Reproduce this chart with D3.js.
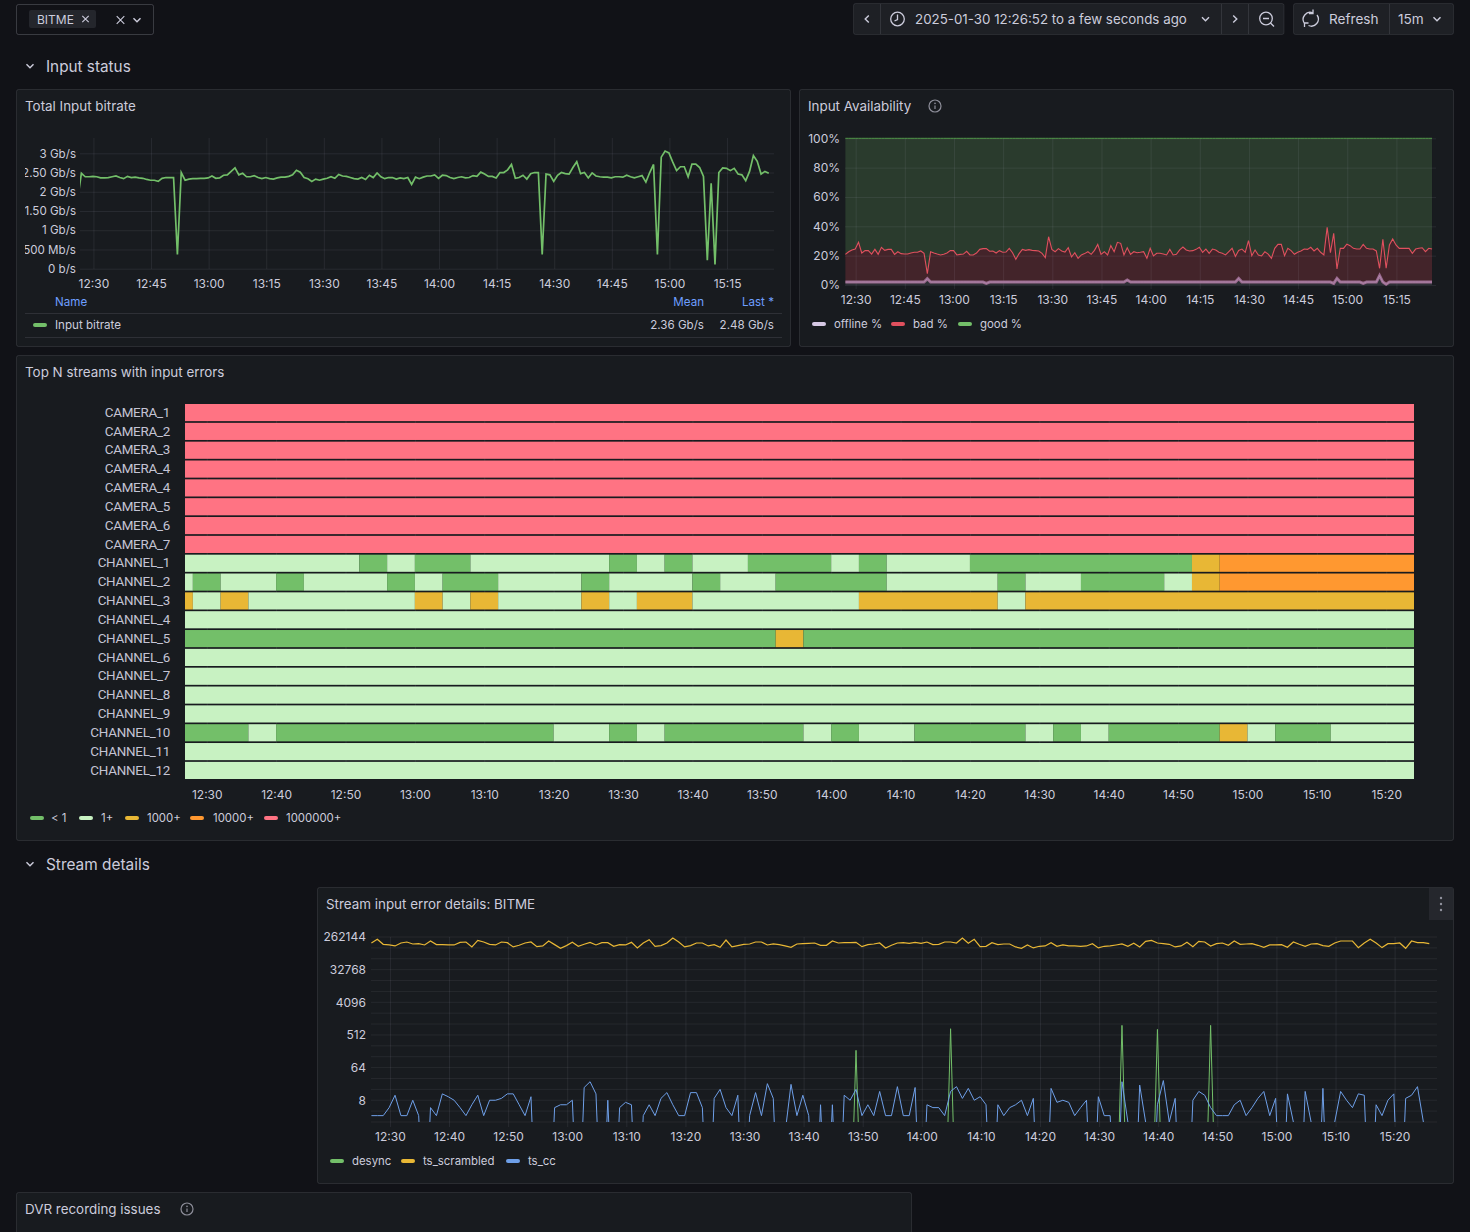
<!DOCTYPE html>
<html>
<head>
<meta charset="utf-8">
<script src="https://cdn.jsdelivr.net/npm/d3@7"></script>
<style>
  html, body { margin: 0; padding: 0; background: #111217; overflow: hidden; }
  svg { display: block; font-family: Inter, "Noto Sans", sans-serif; }
  .grid line { stroke: rgba(204,204,220,0.09); }
  .grid .domain { display: none; }
  .grid text { fill: #ccccdc; font-size: 12px; font-family: Inter, sans-serif; }
</style>
</head>
<body>
<div id="display"></div>
<script>
// values, one point per minute from 12:26:52
var bitrateGb = [1.79,
  2.48,2.39,2.39,2.40,2.39,2.36,2.36,2.37,2.39,2.41,
  2.37,2.34,2.40,2.37,2.38,2.36,2.35,2.32,2.30,2.30,
  2.27,2.35,2.37,2.37,2.37,0.37,2.50,2.30,2.33,2.34,
  2.34,2.35,2.35,2.36,2.41,2.35,2.36,2.43,2.44,2.53,
  2.62,2.44,2.48,2.39,2.39,2.42,2.37,2.34,2.37,2.34,
  2.33,2.36,2.38,2.38,2.40,2.44,2.56,2.51,2.37,2.34,
  2.27,2.33,2.30,2.33,2.35,2.39,2.35,2.45,2.41,2.40,
  2.37,2.34,2.33,2.37,2.32,2.43,2.37,2.49,2.39,2.34,
  2.37,2.37,2.33,2.36,2.34,2.37,2.19,2.38,2.34,2.38,
  2.41,2.41,2.44,2.35,2.43,2.42,2.37,2.34,2.37,2.39,
  2.36,2.37,2.42,2.40,2.51,2.46,2.40,2.40,2.36,2.50,
  2.50,2.57,2.71,2.35,2.37,2.43,2.33,2.47,2.50,2.50,
  0.37,2.46,2.44,2.27,2.43,2.50,2.47,2.46,2.63,2.78,
  2.47,2.50,2.36,2.49,2.41,2.39,2.38,2.38,2.36,2.39,
  2.39,2.38,2.43,2.39,2.36,2.39,2.42,2.25,2.50,2.71,
  0.37,2.90,3.06,3.01,2.77,2.55,2.65,2.65,2.39,2.72,
  2.72,2.63,2.40,0.22,2.22,0.11,2.50,2.62,2.61,2.55,
  2.61,2.46,2.44,2.29,2.53,2.94,2.79,2.46,2.53,2.48];

var offlinePct = [
  2,2,2,2,2,2,2,2,2,2, 2,2,2,2,2,2,2,2,2,2,
  2,2,2,2,2,4.3,2,2,2,2, 2,2,2,2,2,2,2,2,2,2,
  2,2,2,1.1,2,2,2,2,2,2, 2,2,2,2,2,2,2,2,2,2,
  2,2,2,2,2,2,2,2,2,2, 2,2,2,2,2,2,2,2,2,2,
  2,2,2,2,2,2,3.4,2,2,2, 2,2,2,2,2,2,2,2,2,2,
  2,2,2,2,2,2,2,2,2,2, 2,2,2,2,2,2,2,2,2,2,
  4.5,2,2,2,2,2,2,2,2,2, 2,2,2,2,2,2,2,2,2,2,
  2,2,2,2,2,2,2,2,2,1.1, 4.5,2,2,2,2,2,2,2,1.1,2,
  2,2,2,6.4,2,0.5,2,2,2,2, 2,2,2,2,2,2,2,2,2,2];

var badPct = [
  18.9,20.7,21.9,22.5,27.1,19.8,21.4,21.4,19.1,22.3,
  18.9,23.7,21.6,22.3,22.3,18.9,20.7,19.4,19.1,19.1,
  19.8,20.3,20.3,21.2,19.6,3.4,20.7,19.8,19.1,18.5,
  18.9,19.8,21.4,21.4,18.5,18.9,19.1,21.0,18.5,18.5,
  19.8,22.3,22.8,23.7,21.0,21.2,19.8,21.4,20.3,20.5,
  23.0,20.0,15.5,19.4,22.3,21.6,22.1,21.6,21.4,21.2,
  19.6,16.6,30.9,22.3,20.7,22.8,21.2,20.5,23.4,17.1,
  20.0,16.2,18.5,19.4,20.7,18.9,21.6,25.7,18.9,20.7,
  18.5,24.8,20.7,27.1,26.4,18.5,22.0,18.9,20.7,20.0,
  20.3,20.7,16.2,23.0,17.8,19.6,19.6,19.1,18.5,22.3,
  18.5,18.9,21.9,23.9,21.9,21.2,21.4,22.3,23.7,20.3,
  22.5,19.6,22.5,21.9,20.3,19.6,18.5,20.7,23.0,17.5,
  19.1,22.5,20.3,28.2,18.0,21.9,18.5,17.8,20.7,19.1,
  16.2,23.0,25.7,25.7,18.0,23.0,21.4,18.9,20.3,21.2,
  22.5,22.3,23.7,21.2,23.0,20.3,18.5,37.3,20.0,34.1,
  6.4,23.0,23.0,25.9,24.8,23.0,22.5,22.5,26.6,23.0,
  22.5,22.5,21.2,5.0,29.1,10.9,25.3,29.4,25.3,23.0,
  23.0,23.0,23.0,19.6,22.5,23.0,23.4,20.7,23.0,22.5];

var goodPct = [
  79.1,77.3,76.1,75.5,70.9,78.2,76.6,76.6,78.9,75.7,
  79.1,74.3,76.4,75.7,75.7,79.1,77.3,78.6,78.9,78.9,
  78.2,77.7,77.7,76.8,78.4,92.3,77.3,78.2,78.9,79.5,
  79.1,78.2,76.6,76.6,79.5,79.1,78.9,77.0,79.5,79.5,
  78.2,75.7,75.2,75.2,77.0,76.8,78.2,76.6,77.7,77.5,
  75.0,78.0,82.5,78.6,75.7,76.4,75.9,76.4,76.6,76.8,
  78.4,81.4,67.1,75.7,77.3,75.2,76.8,77.5,74.6,80.9,
  78.0,81.8,79.5,78.6,77.3,79.1,76.4,72.3,79.1,77.3,
  79.5,73.2,77.3,70.9,71.6,79.5,74.6,79.1,77.3,78.0,
  77.7,77.3,81.8,75.0,80.2,78.4,78.4,78.9,79.5,75.7,
  79.5,79.1,76.1,74.1,76.1,76.8,76.6,75.7,74.3,77.7,
  75.5,78.4,75.5,76.1,77.7,78.4,79.5,77.3,75.0,80.5,
  76.4,75.5,77.7,69.8,80.0,76.1,79.5,80.2,77.3,78.9,
  81.8,75.0,72.3,72.3,80.0,75.0,76.6,79.1,77.7,76.8,
  75.5,75.7,74.3,76.8,75.0,77.7,79.5,60.7,78.0,64.8,
  89.1,75.0,75.0,72.1,73.2,75.0,75.5,75.5,72.3,75.0,
  75.5,75.5,76.8,88.6,68.9,88.6,72.7,68.6,72.7,75.0,
  75.0,75.0,75.0,78.4,75.5,75.0,74.6,77.3,75.0,75.5];

var tsScrambled = [
  179000,226000,164600,157800,148200,179000,190600,168100,171600,157800,
  203000,161200,161200,157800,157800,186700,190600,139100,212000,190600,
  164600,157800,190600,182800,139100,154500,179000,190600,142000,148200,
  203000,161200,127900,151300,186700,145100,164600,186700,157800,182800,
  182800,145100,161200,157800,186700,130600,179000,221000,145100,151300,
  179000,245900,190600,139100,151300,179000,179000,148200,161200,136200,
  216500,139100,151300,164600,168100,190600,190600,157800,168100,161200,
  148200,136200,168100,171600,175400,179000,154500,154500,203000,179000,
  182800,182800,186700,142000,161200,168100,179000,130600,154500,179000,
  182800,175400,186700,175400,190600,161200,164600,190600,190600,179000,
  245900,175400,226000,142000,145100,182800,161200,168100,168100,139100,
  127900,157800,130600,145100,148200,182800,145100,157800,148200,148200,
  145100,148200,171600,130600,145100,148200,157800,168100,145100,175400,
  139100,199000,212000,179000,171600,164600,139100,148200,186700,142000,
  199000,190600,148200,171600,179000,154500,203000,164600,168100,171600,
  154500,136200,157800,157800,161200,136200,190600,164600,145100,168100,
  171600,151300,145100,179000,203000,203000,203000,133400,179000,226000,
  179000,133400,171600,171600,179000,127900,203000,182800,182800,171600];

var tsCc = [
  3,3,3,5,11,3,3,8,3,0, 5,3,12,10,8,5,3,6,11,3,
  8,8,9,12,12,6,3,10,0,0, 0,5,6,6,8,0,18,26,12,0,
  8,0,5,7,6,0,3,6,3,9, 13,6,3,3,13,13,5,0,9,16,
  5,3,11,0,3,13,3,23,9,0, 1,22,3,11,3,0,6,0,6,0,
  11,8,16,3,6,3,14,3,3,19, 3,3,18,0,6,5,5,3,14,19,
  9,17,8,10,6,0,6,3,5,6, 8,3,9,0,0,17,7,8,7,3,
  5,8,0,10,3,3,0,26,2,0, 21,2,0,6,28,2,9,0,0,8,
  14,11,5,3,3,3,6,8,3,5, 9,14,3,9,0,12,2,0,14,2,
  0,17,0,2,14,8,5,12,11,0, 6,3,8,12,0,9,11,19,2,0];

var desync = [
  0,0,0,0,0,0,0,0,0,0, 0,0,0,0,0,0,0,0,0,0,
  0,0,0,0,0,0,0,0,0,0, 0,0,0,0,0,0,0,0,0,0,
  0,0,0,0,0,0,0,0,0,0, 0,0,0,0,0,0,0,0,0,0,
  0,0,0,0,0,0,0,0,0,0, 0,0,0,0,0,0,0,0,0,0,
  0,0,192,0,0,0,0,0,0,0, 0,0,0,0,0,0,0,0,760,0,
  0,0,0,0,0,0,0,0,0,0, 0,0,0,0,0,0,0,0,0,0,
  0,0,0,0,0,0,0,942,0,0, 0,0,0,729,0,0,0,0,0,0,
  0,0,942,0,0,0,0,0,0,0, 0,0,0,0,0,0,0,0,0,0,
  0,0,0,0,0,0,0,0,0,0, 0,0,0,0,0,0,0,0,0,0];

// status history: error class per 4 minute bin, 0 "<1" ... 4 "1000000+"
var streamNames = ['CAMERA_1','CAMERA_2','CAMERA_3','CAMERA_4','CAMERA_4','CAMERA_5','CAMERA_6','CAMERA_7',
  'CHANNEL_1','CHANNEL_2','CHANNEL_3','CHANNEL_4','CHANNEL_5','CHANNEL_6','CHANNEL_7','CHANNEL_8','CHANNEL_9',
  'CHANNEL_10','CHANNEL_11','CHANNEL_12'];
var rowRed =   [4,4,4,4,4,4,4,4,4,4,4,4,4,4,4,4,4,4,4,4,4,4,4,4,4,4,4,4,4,4,4,4,4,4,4,4,4,4,4,4,4,4,4,4,4];
var rowLight = [1,1,1,1,1,1,1,1,1,1,1,1,1,1,1,1,1,1,1,1,1,1,1,1,1,1,1,1,1,1,1,1,1,1,1,1,1,1,1,1,1,1,1,1,1];
var rowCh1 =   [1,1,1,1,1,1,1,0,1,0,0,1,1,1,1,1,0,1,0,1,1,0,0,0,1,0,1,1,1,0,0,0,0,0,0,0,0,2,3,3,3,3,3,3,3];
var rowCh2 =   [1,0,1,1,0,1,1,1,0,1,0,0,1,1,1,0,1,1,1,0,1,1,0,0,0,0,1,1,1,1,0,1,1,0,0,0,1,2,3,3,3,3,3,3,3];
var rowCh3 =   [2,1,2,1,1,1,1,1,1,2,1,2,1,1,1,2,1,2,2,1,1,1,1,1,1,2,2,2,2,2,1,2,2,2,2,2,2,2,2,2,2,2,2,2,2];
var rowCh5 =   [0,0,0,0,0,0,0,0,0,0,0,0,0,0,0,0,0,0,0,0,0,0,2,0,0,0,0,0,0,0,0,0,0,0,0,0,0,0,0,0,0,0,0,0,0];
var rowCh10 =  [0,0,0,1,0,0,0,0,0,0,0,0,0,0,1,1,0,1,0,0,0,0,0,1,0,1,1,0,0,0,0,1,0,1,0,0,0,0,2,1,0,0,1,1,1];
var statusRows = [rowRed,rowRed,rowRed,rowRed,rowRed,rowRed,rowRed,rowRed,
  rowCh1,rowCh2,rowCh3,rowLight,rowCh5,rowLight,rowLight,rowLight,rowLight,rowCh10,rowLight,rowLight];

var levelNames = ['< 1','1+','1000+','10000+','1000000+'];
var levelColors = ['#73bf69','#c8f2c2','#e8b735','#ff9830','#ff7383'];

// tick labels
var bitrateTicks = [0,0.5,1,1.5,2,2.5,3];
var bitrateLabels = ['0 b/s','500 Mb/s','1 Gb/s','1.50 Gb/s','2 Gb/s','2.50 Gb/s','3 Gb/s'];
var pctTicks = [0,20,40,60,80,100];
var logTicks = [8,64,512,4096,32768,262144];
var logGrid = [2,4,8,16,32,64,128,256,512,1024,2048,4096,8192,16384,32768,65536,131072,262144];
var time15 = ['12:30','12:45','13:00','13:15','13:30','13:45','14:00','14:15','14:30','14:45','15:00','15:15'];
var time10 = ['12:30','12:40','12:50','13:00','13:10','13:20','13:30','13:40','13:50','14:00','14:10','14:20',
  '14:30','14:40','14:50','15:00','15:10','15:20'];

var W = 1470, H = 1232;
var svg = d3.select('#display').append('svg').attr('width', W).attr('height', H);
var defs = svg.append('defs');

var TEXT = '#ccccdc', DIM = 'rgba(204,204,220,0.65)', PANEL = '#181b1f', BORDER = 'rgba(204,204,220,0.12)';
var GREEN = '#73bf69', RED = '#e0505e', YELLOW = '#e8b735', BLUE = '#6e9fe8', LAV = '#d6c8e4';
var LEGEND = 11.6;

function day(h, m, s) { return new Date(2025, 0, 30, h, m, s || 0); }
function parseHM(s) { var p = s.split(':'); return day(+p[0], +p[1]); }
var t0 = day(12, 26, 52), t1 = day(15, 26, 52);
function minuteTime(i) { return new Date(t0.getTime() + i * 60000); }

function clip(id, x, y, w, h) {
  defs.append('clipPath').attr('id', id).append('rect').attr('x', x).attr('y', y).attr('width', w).attr('height', h);
}
function label(g, x, y, s, o) {
  o = o || {};
  return g.append('text').attr('x', x).attr('y', y).attr('dy', '0.35em')
    .attr('text-anchor', o.anchor || 'start')
    .attr('fill', o.fill || TEXT)
    .style('font-size', (o.size || 12) + 'px')
    .style('font-weight', o.weight || 400)
    .style('font-family', o.family || null)
    .style('letter-spacing', o.spacing || null)
    .text(s);
}
function panel(x, y, w, h, title) {
  svg.append('rect').attr('x', x + 0.5).attr('y', y + 0.5).attr('width', w - 1).attr('height', h - 1)
    .attr('rx', 2).attr('fill', PANEL).attr('stroke', BORDER);
  if (title) label(svg, x + 9, y + 17, title, { size: 13.4 });
}
function swatch(g, x, y, color) {
  g.append('rect').attr('x', x).attr('y', y - 2).attr('width', 14).attr('height', 4).attr('rx', 2).attr('fill', color);
}
function chevron(x, y, dir, color) {
  var d = { down: 'M-3.5,-1.8 L0,1.8 L3.5,-1.8', left: 'M1.8,-3.5 L-1.8,0 L1.8,3.5', right: 'M-1.8,-3.5 L1.8,0 L-1.8,3.5' }[dir];
  svg.append('path').attr('transform', 'translate(' + x + ',' + y + ')').attr('d', d)
    .attr('fill', 'none').attr('stroke', color || TEXT).attr('stroke-width', 1.4);
}
function infoIcon(x, y) {
  svg.append('circle').attr('cx', x).attr('cy', y).attr('r', 6).attr('fill', 'none').attr('stroke', DIM).attr('stroke-width', 1.2);
  svg.append('line').attr('x1', x).attr('x2', x).attr('y1', y - 0.5).attr('y2', y + 3).attr('stroke', DIM).attr('stroke-width', 1.2);
  svg.append('circle').attr('cx', x).attr('cy', y - 2.6).attr('r', 0.8).attr('fill', DIM);
}
// time axis whose ticks double as the vertical grid lines
function timeAxis(x, labels, top, bottom, pad) {
  return svg.append('g').attr('class', 'grid').attr('transform', 'translate(0,' + bottom + ')')
    .call(d3.axisBottom(x).tickValues(labels.map(parseHM)).tickFormat(d3.timeFormat('%H:%M'))
      .tickSize(-(bottom - top)).tickPadding(pad));
}
// y axis whose ticks double as the horizontal grid lines
function yAxis(parent, y, ticks, fmt, left, right, pad) {
  return parent.append('g').attr('class', 'grid').attr('transform', 'translate(' + left + ',0)')
    .call(d3.axisLeft(y).tickValues(ticks).tickFormat(fmt).tickSize(-(right - left)).tickPadding(pad));
}

// ---- top bar
svg.append('rect').attr('x', 16.5).attr('y', 4.5).attr('width', 137).attr('height', 30).attr('rx', 2)
  .attr('fill', '#111217').attr('stroke', 'rgba(204,204,220,0.22)');
svg.append('rect').attr('x', 29).attr('y', 10).attr('width', 67).attr('height', 18).attr('rx', 2).attr('fill', '#24262c');
label(svg, 37, 19.5, 'BITME', { size: 12 });
function cross(x, y, r, w) {
  svg.append('path').attr('d', 'M' + (x - r) + ',' + (y - r) + 'L' + (x + r) + ',' + (y + r) + 'M' + (x + r) + ',' + (y - r) + 'L' + (x - r) + ',' + (y + r))
    .attr('stroke', TEXT).attr('stroke-width', w);
}
cross(85.5, 19, 3.2, 1.1);
cross(120.5, 20, 3.8, 1.1);
chevron(137, 20, 'down');

[[853, 431.5], [1293, 161]].forEach(function (b) {
  svg.append('rect').attr('x', b[0] + 0.5).attr('y', 3.5).attr('width', b[1] - 1).attr('height', 31).attr('rx', 2)
    .attr('fill', '#1e2025').attr('stroke', 'rgba(204,204,220,0.1)');
});
[880.5, 1221.5, 1248.5, 1389.5].forEach(function (x) {
  svg.append('line').attr('x1', x).attr('x2', x).attr('y1', 4).attr('y2', 34).attr('stroke', 'rgba(204,204,220,0.12)');
});
chevron(867, 19, 'left');
svg.append('circle').attr('cx', 897.5).attr('cy', 19).attr('r', 6.8).attr('fill', 'none').attr('stroke', TEXT).attr('stroke-width', 1.3);
svg.append('path').attr('d', 'M897.5,14.5V19.5L894.5,21').attr('fill', 'none').attr('stroke', TEXT).attr('stroke-width', 1.3);
label(svg, 915, 19.5, '2025-01-30 12:26:52 to a few seconds ago', { size: 13.35 });
chevron(1205.5, 19, 'down');
chevron(1235, 19, 'right');
svg.append('circle').attr('cx', 1266).attr('cy', 18.5).attr('r', 6.3).attr('fill', 'none').attr('stroke', TEXT).attr('stroke-width', 1.3);
svg.append('path').attr('d', 'M1263,18.5H1269M1270.5,23L1274,26.5').attr('fill', 'none').attr('stroke', TEXT).attr('stroke-width', 1.3);
svg.append('path').attr('d', 'M1304.5,23.5A7,7 0 0 1 1313,13M1317,15A7,7 0 0 1 1308.5,25.5M1313,9.5V13.5H1309M1304.5,27V23H1308.5')
  .attr('fill', 'none').attr('stroke', TEXT).attr('stroke-width', 1.3);
label(svg, 1329, 19.5, 'Refresh', { size: 13.6 });
label(svg, 1398, 19.5, '15m', { size: 13.6 });
chevron(1437, 19, 'down');

// ---- section headers
chevron(30, 66, 'down');
label(svg, 46, 66.5, 'Input status', { size: 15.3 });
chevron(30, 864, 'down');
label(svg, 46, 864.5, 'Stream details', { size: 15.4 });

// ---- Total Input bitrate
panel(16, 89, 775, 258, 'Total Input bitrate');
var xRate = d3.scaleTime().domain([t0, t1]).range([81.4, 772.6]);
var yRate = d3.scaleLinear().domain([0, 3]).range([268.7, 153.3]);
clip('clipRateAxis', 25, 130, 750, 150);
clip('clipRate', 80, 130, 694, 145);
timeAxis(xRate, time15, 138, 269, 10);
yAxis(svg.append('g').attr('clip-path', 'url(#clipRateAxis)'), yRate, bitrateTicks,
  function (d) { return bitrateLabels[bitrateTicks.indexOf(d)]; }, 80, 774, 4)
  .selectAll('text').style('font-size', '11.6px');
var rateLine = d3.line().x(function (d, i) { return xRate(minuteTime(i - 1)); }).y(function (d) { return yRate(d); });
svg.append('path').datum(bitrateGb).attr('clip-path', 'url(#clipRate)').attr('d', rateLine)
  .attr('fill', 'none').attr('stroke', GREEN).attr('stroke-width', 1.7);
label(svg, 55, 301.5, 'Name', { fill: '#6e9fff', size: LEGEND });
label(svg, 704, 301.5, 'Mean', { fill: '#6e9fff', anchor: 'end', size: LEGEND });
label(svg, 774, 301.5, 'Last *', { fill: '#6e9fff', anchor: 'end', size: LEGEND });
[313.5, 337.5].forEach(function (y) {
  svg.append('line').attr('x1', 25).attr('x2', 782).attr('y1', y).attr('y2', y).attr('stroke', 'rgba(204,204,220,0.12)');
});
swatch(svg, 33, 325, GREEN);
label(svg, 55, 325, 'Input bitrate', { size: LEGEND });
label(svg, 704, 325, '2.36 Gb/s', { anchor: 'end', size: LEGEND });
label(svg, 774, 325, '2.48 Gb/s', { anchor: 'end', size: LEGEND });

// ---- Input Availability
panel(799, 89, 655, 258, 'Input Availability');
infoIcon(935, 106);
var xAvail = d3.scaleTime().domain([t0, t1]).range([845.4, 1435.3]);
var yAvail = d3.scaleLinear().domain([0, 100]).range([285, 138.3]);
var availRows = offlinePct.map(function (v, i) { return { t: minuteTime(i), offline: v, bad: badPct[i], good: goodPct[i] }; });
var stacked = d3.stack().keys(['offline', 'bad', 'good'])(availRows);
var availArea = d3.area().x(function (d) { return xAvail(d.data.t); })
  .y0(function (d) { return yAvail(d[0]); }).y1(function (d) { return yAvail(d[1]); });
var availLine = d3.line().x(function (d) { return xAvail(d.data.t); }).y(function (d) { return yAvail(d[1]); });
svg.append('path').datum(stacked[1]).attr('d', availArea).attr('fill', 'rgba(242,73,92,0.2)');
svg.append('path').datum(stacked[2]).attr('d', availArea).attr('fill', 'rgba(115,191,105,0.2)');
svg.append('path').datum(stacked[0]).attr('d', availArea).attr('fill', 'rgba(204,204,220,0.12)');
timeAxis(xAvail, time15, 138, 289, 6);
yAxis(svg, yAvail, pctTicks, function (d) { return d + '%'; }, 845, 1436, 5);
svg.append('path').datum(stacked[2]).attr('d', availLine).attr('fill', 'none').attr('stroke', '#4f9648').attr('stroke-width', 1);
svg.append('path').datum(stacked[1]).attr('d', availLine).attr('fill', 'none').attr('stroke', RED).attr('stroke-width', 1.1);
svg.append('path').datum(stacked[0]).attr('d', availLine).attr('fill', 'none').attr('stroke', '#9b6a8f').attr('stroke-width', 3);
svg.append('path').datum(stacked[0]).attr('d', availLine).attr('fill', 'none').attr('stroke', LAV).attr('stroke-width', 1).attr('opacity', 0.3);
swatch(svg, 812, 324, LAV);
label(svg, 834, 324, 'offline %', { size: 11.4 });
swatch(svg, 891, 324, RED);
label(svg, 913, 324, 'bad %', { size: 11.4 });
swatch(svg, 958, 324, GREEN);
label(svg, 980, 324, 'good %', { size: 11.4 });

// ---- Top N streams with input errors
panel(16, 355, 1438, 486, 'Top N streams with input errors');
var xStatus = d3.scaleTime().domain([t0, day(15, 24)]).range([185, 1414]);
var yStatus = d3.scaleBand().domain(d3.range(streamNames.length)).range([404, 779]).paddingInner(0.09);
timeAxis(xStatus, time10, 404, 779, 11);
// first bin is the short one up to 12:28, after that one bin every 4 minutes
function binEdge(i) { return i === 0 ? t0 : new Date(day(12, 28).getTime() + (i - 1) * 240000); }
statusRows.forEach(function (levels, r) {
  // merge runs of one level so that no seams show between equal cells
  var runs = [];
  levels.forEach(function (lv, i) {
    var last = runs[runs.length - 1];
    if (last && last.lv === lv) last.end = i + 1; else runs.push({ lv: lv, start: i, end: i + 1 });
  });
  svg.append('g').selectAll('rect').data(runs).enter().append('rect')
    .attr('x', function (d) { return xStatus(binEdge(d.start)); })
    .attr('width', function (d) { return xStatus(binEdge(d.end)) - xStatus(binEdge(d.start)); })
    .attr('y', yStatus(r)).attr('height', yStatus.bandwidth())
    .attr('fill', function (d) { return levelColors[d.lv]; });
  label(svg, 170, yStatus(r) + yStatus.bandwidth() / 2 - 0.5, streamNames[r],
    { anchor: 'end', size: 13.4, family: 'Roboto, sans-serif', spacing: '-0.25px', fill: '#c4c4d4' });
});
var statusLegendX = [[30, 51], [79, 101], [125, 147], [190, 213], [264, 286]];
levelNames.forEach(function (n, i) {
  swatch(svg, statusLegendX[i][0], 818, levelColors[i]);
  label(svg, statusLegendX[i][1], 818, n, { size: 11.4 });
});

// ---- Stream input error details
panel(317, 887, 1137, 297, 'Stream input error details: BITME');
svg.append('rect').attr('x', 1429).attr('y', 888).attr('width', 24).attr('height', 32).attr('fill', '#25272d');
[898, 904, 910].forEach(function (y) {
  svg.append('circle').attr('cx', 1441).attr('cy', y).attr('r', 1.2).attr('fill', DIM);
});
var xErr = d3.scaleTime().domain([t0, t1]).range([371.4, 1435.2]);
var yErr = d3.scaleLog().base(2).domain([2, 262144]).range([1122, 937]);
timeAxis(xErr, time10, 937, 1127, 5);
svg.append('g').selectAll('line').data(logGrid).enter().append('line')
  .attr('x1', 371).attr('x2', 1437).attr('y1', function (d) { return yErr(d); }).attr('y2', function (d) { return yErr(d); })
  .attr('stroke', 'rgba(204,204,220,0.08)');
svg.append('g').attr('class', 'grid').attr('transform', 'translate(371,0)')
  .call(d3.axisLeft(yErr).tickValues(logTicks).tickFormat(d3.format('d')).tickSize(0).tickPadding(5));
clip('clipErr', 371, 930, 1066, 192);
// zero has no place on a log axis, it is sent far below the plot and clipped
var errLine = d3.line().x(function (d, i) { return xErr(minuteTime(i)); })
  .y(function (d) { return yErr(Math.max(d, 0.001)); });
[[desync, GREEN, 1], [tsScrambled, YELLOW, 1.2], [tsCc, BLUE, 1]].forEach(function (s) {
  svg.append('path').datum(s[0]).attr('clip-path', 'url(#clipErr)').attr('d', errLine)
    .attr('fill', 'none').attr('stroke', s[1]).attr('stroke-width', s[2]);
});
swatch(svg, 330, 1161, GREEN);
label(svg, 352, 1161, 'desync', { size: 11.4 });
swatch(svg, 401, 1161, YELLOW);
label(svg, 423, 1161, 'ts_scrambled', { size: 11.4 });
swatch(svg, 506, 1161, BLUE);
label(svg, 528, 1161, 'ts_cc', { size: 11.4 });

// ---- DVR recording issues, cut off by the window
panel(16, 1192, 896, 60, 'DVR recording issues');
infoIcon(187, 1209);
</script>
</body>
</html>
